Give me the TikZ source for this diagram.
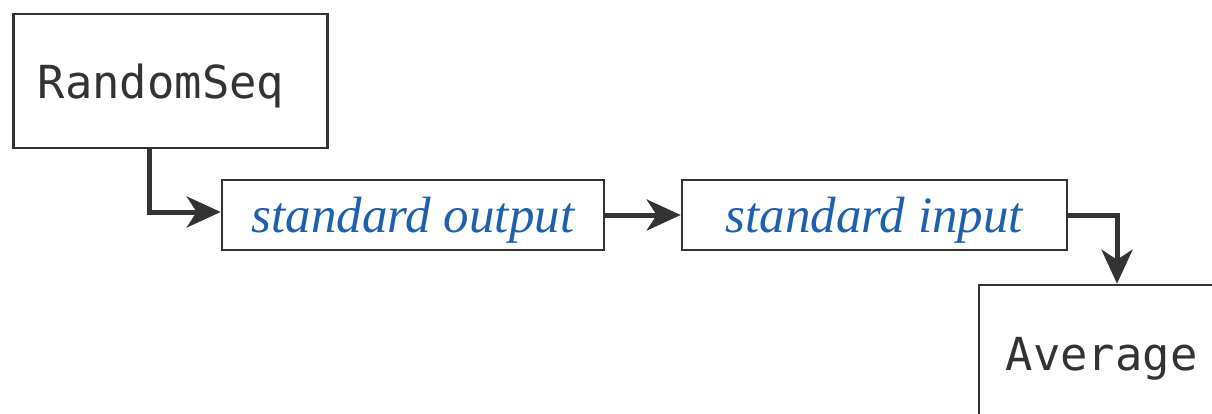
\documentclass[tikz,border=0pt]{standalone}
\usepackage{fontspec}
\newfontfamily\progfont{DejaVu Sans Mono}
\newfontfamily\streamfont{Liberation Serif}
\usetikzlibrary{arrows.meta}
\definecolor{linegray}{HTML}{333333}
\definecolor{textblue}{RGB}{30,96,175}
\begin{document}
\begin{tikzpicture}[x=1pt,y=-1pt,
  bigbox/.style={draw=linegray,line width=2.6pt,minimum width=314pt,minimum height=134pt,inner sep=0pt},
  streambox/.style={draw=linegray,line width=2.6pt,minimum height=70pt,inner sep=0pt,
    text=textblue,font=\streamfont\fontsize{51}{54}\selectfont\itshape,text height=34pt,text depth=0pt},
  prog/.style={font=\progfont\fontsize{45.5}{50}\selectfont,text=linegray,anchor=base west,inner sep=0pt},
  conn/.style={draw=linegray,line width=5pt,-{Stealth[length=34pt,width=31pt,inset=10pt]}}]
\useasboundingbox (0,0) rectangle (1212,414);
\fill[white] (0,0) rectangle (1212,414);
\node[bigbox] (rs) at (170.5,81) {};
\node[prog] (rslabel) at (37.5,99) {RandomSeq};
\node[streambox,minimum width=382pt] (so) at (413,215) {standard output};
\node[streambox,minimum width=385pt] (si) at (874.5,215) {standard input};
\node[bigbox] (avg) at (1136,352) {};
\node[prog] (avglabel) at (1005.5,370) {Average};
\draw[conn] ([xshift=-21.5pt]rs.south) |- ([yshift=3pt]so.west);
\draw[conn] (so.east) -- (si.west);
\draw[conn] (si.east) -| ([xshift=-19pt]avg.north);
\end{tikzpicture}
\end{document}
